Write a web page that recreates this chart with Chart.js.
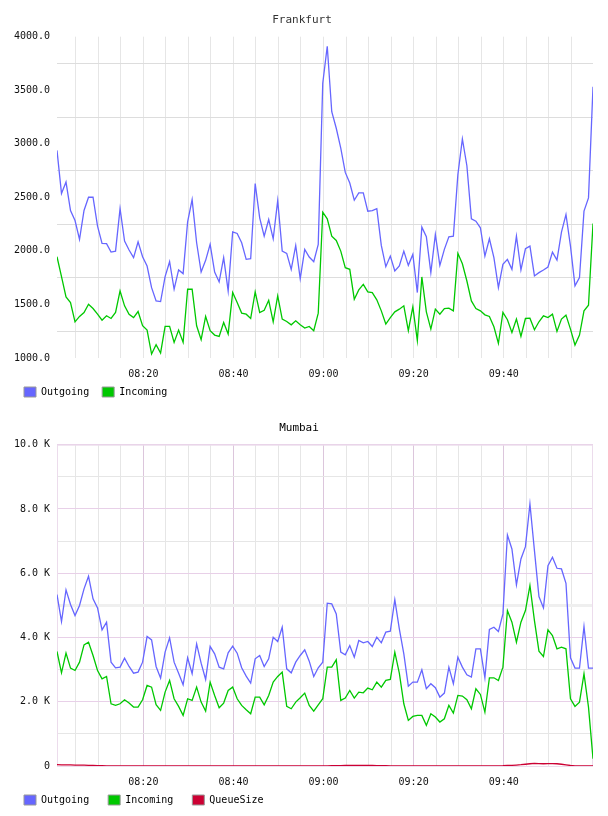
<!DOCTYPE html>
<html>
<head>
<meta charset="utf-8">
<script src="https://cdn.jsdelivr.net/npm/chart.js@4"></script>
<style>
	body { margin: 0; background: #fff; }
	canvas { display: block; }
</style>
</head>
<body>
<canvas id="frankfurtC" width="608" height="408"></canvas>
<canvas id="mumbaiC" width="608" height="408"></canvas>
<script>
// one sample per minute, first sample at 08:00:50
const startMinute = 0.83;
const timeTicks = { 20: "08:20", 40: "08:40", 60: "09:00", 80: "09:20", 100: "09:40" };

// frankfurt
const frankfurtOut = [
	2938, 2535, 2643, 2377, 2284, 2107, 2377, 2501, 2501, 2231,
	2070, 2067, 1989, 1998, 2395, 2091, 2008, 1937, 2085, 1946,
	1859, 1657, 1533, 1527, 1760, 1899, 1642, 1822, 1788, 2271,
	2479, 2076, 1803, 1912, 2061, 1803, 1710, 1937, 1626, 2178,
	2163, 2076, 1921, 1927, 2628, 2309, 2138, 2293, 2113, 2470,
	1998, 1977, 1828, 2051, 1741, 2014, 1943, 1899, 2061, 3564,
	3911, 3300, 3145, 2960, 2733, 2634, 2473, 2541, 2541, 2371,
	2377, 2395, 2051, 1853, 1952, 1812, 1859, 1998, 1865, 1967,
	1611, 2222, 2132, 1797, 2154, 1865, 2014, 2132, 2138, 2712,
	3046, 2795, 2300, 2278, 2216, 1952, 2113, 1937, 1657, 1874,
	1921, 1828, 2138, 1822, 2020, 2045, 1766, 1797, 1822, 1850,
	1989, 1915, 2175, 2340, 2045, 1673, 1750, 2371, 2495, 3533
];
const frankfurtIn = [
	1946, 1760, 1571, 1518, 1338, 1388, 1425, 1502, 1462, 1409,
	1353, 1394, 1369, 1425, 1626, 1487, 1409, 1378, 1434, 1301,
	1261, 1037, 1124, 1047, 1295, 1295, 1146, 1261, 1146, 1642,
	1642, 1301, 1171, 1388, 1255, 1214, 1202, 1332, 1224, 1611,
	1518, 1419, 1409, 1369, 1617, 1425, 1446, 1539, 1338, 1580,
	1363, 1341, 1310, 1347, 1310, 1279, 1295, 1255, 1419, 2362,
	2300, 2138, 2098, 1998, 1843, 1828, 1549, 1636, 1688, 1617,
	1611, 1543, 1440, 1317, 1378, 1431, 1456, 1487, 1255, 1478,
	1162, 1757, 1431, 1270, 1456, 1409, 1462, 1465, 1440, 1977,
	1880, 1719, 1533, 1462, 1440, 1403, 1388, 1292, 1137, 1425,
	1357, 1239, 1363, 1202, 1369, 1372, 1264, 1338, 1394, 1378,
	1409, 1248, 1363, 1400, 1270, 1121, 1214, 1440, 1493, 2256
];

// mumbai
const mumbaiOut = [
	5335, 4496, 5480, 5025, 4683, 4994, 5512, 5905, 5201, 4921,
	4237, 4476, 3232, 3056, 3077, 3357, 3098, 2890, 2922, 3232,
	4030, 3926, 3098, 2735, 3543, 3989, 3232, 2890, 2528, 3367,
	2870, 3802, 3201, 2694, 3719, 3491, 3077, 3025, 3522, 3730,
	3512, 3056, 2797, 2580, 3336, 3439, 3098, 3336, 4009, 3875,
	4320, 3025, 2901, 3232, 3439, 3616, 3263, 2787, 3056, 3232,
	5066, 5045, 4734, 3543, 3460, 3750, 3388, 3906, 3833, 3875,
	3719, 4009, 3833, 4165, 4196, 5180, 4268, 3491, 2486, 2611,
	2611, 2994, 2404, 2559, 2435, 2144, 2269, 3077, 2559, 3388,
	3077, 2839, 2766, 3647, 3647, 2745, 4248, 4320, 4185, 4734,
	7190, 6755, 5636, 6444, 6827, 8153, 6703, 5273, 4921, 6237,
	6496, 6154, 6133, 5688, 3367, 3046, 3046, 4341, 3046, 3046
];
const mumbaiIn = [
	3564, 2901, 3512, 3046, 2973, 3232, 3771, 3854, 3439, 2973,
	2714, 2787, 1937, 1886, 1937, 2062, 1958, 1834, 1834, 2062,
	2507, 2455, 1906, 1730, 2300, 2663, 2093, 1854, 1575, 2093,
	2041, 2455, 1989, 1709, 2611, 2196, 1813, 1958, 2352, 2455,
	2093, 1886, 1751, 1627, 2145, 2145, 1906, 2196, 2611, 2787,
	2922, 1854, 1782, 1989, 2124, 2269, 1886, 1709, 1906, 2093,
	3077, 3077, 3305, 2041, 2113, 2352, 2113, 2300, 2279, 2424,
	2372, 2611, 2455, 2663, 2694, 3543, 2890, 1937, 1419, 1544,
	1575, 1575, 1264, 1627, 1523, 1368, 1471, 1886, 1647, 2196,
	2176, 2062, 1782, 2404, 2227, 1678, 2745, 2745, 2663, 3077,
	4838, 4476, 3854, 4476, 4838, 5615, 4527, 3574, 3408, 4237,
	4061, 3647, 3699, 3647, 2093, 1854, 1989, 2870, 1834, 228
];
const mumbaiQueue = [
	40, 38, 35, 32, 30, 28, 25, 22, 18, 12,
	8, 5, 3, 2, 2, 2, 2, 2, 2, 2,
	3, 3, 3, 3, 3, 3, 3, 3, 3, 3,
	3, 3, 3, 3, 3, 3, 3, 3, 3, 3,
	3, 3, 3, 3, 3, 3, 3, 3, 3, 3,
	3, 3, 3, 3, 3, 3, 3, 3, 3, 4,
	5, 8, 10, 12, 15, 18, 20, 22, 20, 18,
	15, 12, 10, 8, 6, 5, 4, 3, 3, 3,
	3, 3, 3, 3, 3, 3, 3, 3, 3, 3,
	3, 3, 3, 3, 3, 4, 5, 6, 7, 8,
	15, 22, 30, 40, 55, 70, 80, 75, 70, 72,
	75, 70, 55, 35, 15, 5, 2, 1, 0, 0
];

const monoFont = "'DejaVu Sans Mono', monospace";
Chart.defaults.font.family = monoFont;
Chart.defaults.font.size = 10;
Chart.defaults.color = "#111";

function series(label, values, color) {
	return {
		label: label,
		data: values.map((v, i) => ({ x: startMinute + i, y: v })),
		borderColor: color,
		backgroundColor: color,
		borderWidth: 1.3,
		pointRadius: 0,
		tension: 0,
		fill: false
	};
}

// the time labels sit partly over the legend box, so let them draw there
const timeLabelRoom = {
	id: 'timeLabelRoom',
	afterLayout(chart) {
		const x = chart.scales.x;
		x.bottom = x.top + 24;
	}
};

// pink frame round the plot of the second chart
const frameBox = {
	id: 'frameBox',
	beforeDatasetsDraw(chart) {
		const a = chart.chartArea;
		const ctx = chart.ctx;
		ctx.save();
		ctx.strokeStyle = "#ecdcec";
		ctx.lineWidth = 1;
		ctx.strokeRect(a.left + 0.5, a.top + 0.5, a.right - a.left - 1, a.bottom - a.top);
		ctx.restore();
	}
};

function makeChart(el, title, datasets, o) {
	return new Chart(document.getElementById(el), {
		type: 'line',
		data: { datasets },
		plugins: [timeLabelRoom].concat(o.plugins || []),
		options: {
			responsive: false,
			animation: false,
			layout: { padding: { left: o.left, right: 15, top: 0, bottom: 1 } },
			plugins: {
				title: {
					display: true,
					text: title,
					color: o.titleColor,
					font: { family: monoFont, size: 11, weight: 'normal' },
					padding: { top: 14, bottom: 9.5 }
				},
				legend: {
					position: 'bottom',
					align: 'start',
					labels: {
						boxWidth: 12,
						boxHeight: 10,
						padding: o.legendPad,
						color: "#000",
						font: { family: monoFont, size: 10 },
						generateLabels: (chart) => Chart.defaults.plugins.legend.labels.generateLabels(chart).map((l) => {
							l.strokeStyle = "#999";
							l.lineWidth = 1;
							return l;
						})
					}
				},
				tooltip: { enabled: false }
			},
			scales: {
				x: {
					type: 'linear',
					min: startMinute,
					max: startMinute + frankfurtOut.length - 1,
					afterFit: (axis) => { axis.height = o.xAxisH; },
					border: { display: false },
					grid: { drawTicks: false, color: o.xGrid },
					ticks: {
						stepSize: 5,
						includeBounds: false,
						autoSkip: false,
						maxRotation: 0,
						padding: 10,
						callback: (v) => timeTicks[v] || ''
					}
				},
				y: {
					min: o.yMin,
					max: o.yMax,
					afterFit: (axis) => { axis.width = 57 - o.left; },
					border: { display: false },
					grid: { drawTicks: false, color: o.yGrid, lineWidth: o.yGridW || 1 },
					ticks: {
						stepSize: o.yStep,
						autoSkip: false,
						padding: 7,
						callback: o.yLabel
					}
				}
			}
		}
	});
}

var frankfurtChart = makeChart('frankfurtC', 'Frankfurt', [
	series('Outgoing', frankfurtOut, '#6666ff'),
	series('Incoming', frankfurtIn, '#00c800')
], {
	left: 11,
	legendPad: 13,
	xAxisH: 16,
	titleColor: "#333",
	yMin: 1000, yMax: 4000, yStep: 250,
	yLabel: (v) => v % 500 === 0 ? v.toFixed(1) : '',
	xGrid: "#e6e6e6",
	yGrid: (c) => c.tick.value % 500 === 0 ? "rgba(0,0,0,0)" : "#dddddd"
});

var mumbaiChart = makeChart('mumbaiC', 'Mumbai', [
	series('Outgoing', mumbaiOut, '#6666ff'),
	series('Incoming', mumbaiIn, '#00c800'),
	series('QueueSize', mumbaiQueue, '#cc0033')
], {
	left: 5,
	legendPad: 19,
	xAxisH: 10,
	titleColor: "#000",
	plugins: [frameBox],
	yMin: 0, yMax: 10000, yStep: 1000,
	yLabel: (v) => v === 0 ? '0' : (v % 2000 === 0 ? (v / 1000).toFixed(1) + ' K' : ''),
	xGrid: (c) => c.tick.value % 20 === 0 ? "#dcc6dc" : "#e6e6e6",
	yGrid: (c) => c.tick.value === 5000 ? "#efefef" : (c.tick.value % 2000 === 0 ? "#e8d0e8" : "#e6e6e6"),
	yGridW: (c) => c.tick.value === 5000 ? 3 : 1
});
</script>
</body>
</html>
